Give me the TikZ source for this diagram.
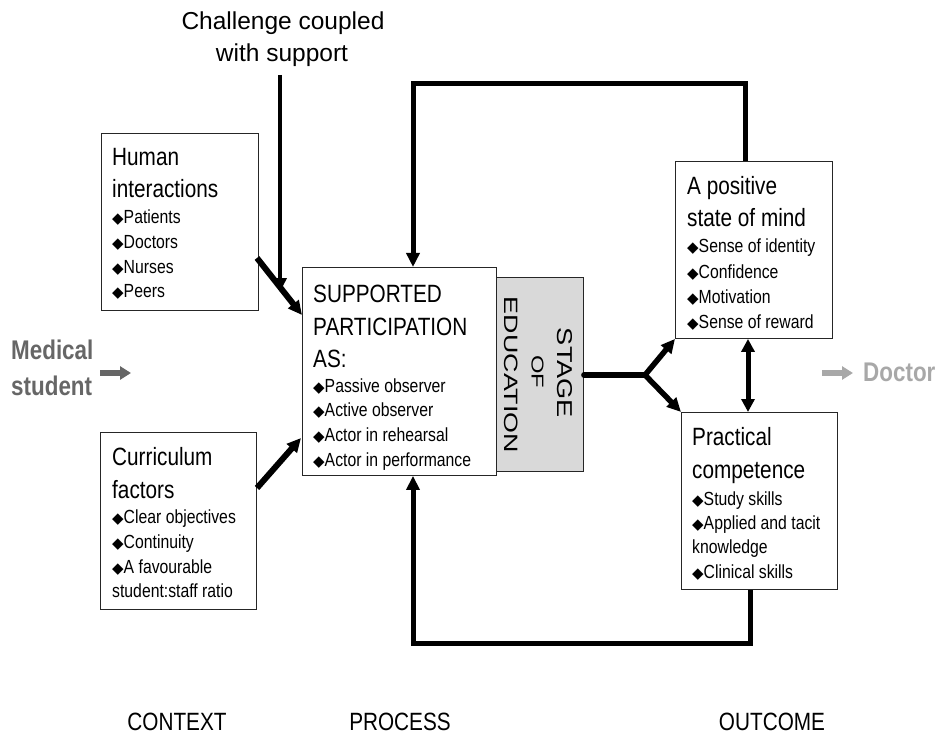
\documentclass[tikz,border=0pt]{standalone}
\usepackage{fontspec}
\usetikzlibrary{arrows.meta}
\newfontfamily\nar{Liberation Sans}[FakeStretch=0.83]
\newfontfamily\reg{Liberation Sans}
\newfontfamily\djv{DejaVu Sans}
\newcommand\dm{{\djv\fontsize{15}{15}\selectfont ◆}}
\definecolor{medgray}{HTML}{666666}
\definecolor{docgray}{HTML}{A8A8A8}
\definecolor{stagegray}{HTML}{D9D9D9}
\tikzset{
  mybox/.style={draw=black!85, line width=0.9pt, inner sep=0pt, anchor=north west},
  hdtxt/.style={font=\nar\fontsize{25}{30}\selectfont, anchor=base west, inner sep=0pt},
  bltxt/.style={font=\nar\fontsize{19}{24}\selectfont, anchor=base west, inner sep=0pt},
  chtxt/.style={font=\reg\fontsize{24.5}{30}\selectfont, anchor=base, inner sep=0pt},
  foottxt/.style={font=\nar\fontsize{25}{30}\selectfont, anchor=base, inner sep=0pt},
  sidetxt/.style={font=\nar\bfseries\fontsize{27}{30}\selectfont, anchor=base west, inner sep=0pt},
  arrtip/.style={-{Triangle[length=14pt,width=13pt]}},
  conn/.style={line width=5pt, line join=miter, arrtip},
  plainln/.style={line width=5.5pt},
  garrow/.style={line width=5.5pt, -{Triangle[length=11pt,width=13pt]}},
  rottxt/.style={rotate=-90, inner sep=0pt, font=\reg},
}
\begin{document}
\begin{tikzpicture}[x=1pt,y=-1pt]
\useasboundingbox (0,0) rectangle (948,754);

% boxes
\node[mybox, minimum width=157pt, minimum height=177pt] (hum) at (101,133) {};
\node[mybox, minimum width=156pt, minimum height=177pt] (cur) at (100,432) {};
\node[mybox, fill=stagegray, minimum width=87pt, minimum height=194pt] (stage) at (496,277) {};
\node[mybox, fill=white, minimum width=194pt, minimum height=208pt] (sup) at (302,267) {};
\node[mybox, minimum width=157pt, minimum height=177pt] (pos) at (675,161) {};
\node[mybox, minimum width=156pt, minimum height=177pt] (pra) at (681,412) {};

% human interactions
\node[hdtxt] (hum1) at (112,166) {Human};
\node[hdtxt] (hum2) at (112,198) {interactions};
\foreach \t [count=\i] in {Patients,Doctors,Nurses,Peers}
  \node[bltxt] (humb\i) at (112,{224+24.5*(\i-1)}) {\dm\t};

% curriculum
\node[hdtxt] (cur1) at (112,465) {Curriculum};
\node[hdtxt] (cur2) at (112,498) {factors};
\foreach \t [count=\i] in {Clear objectives,Continuity,A favourable}
  \node[bltxt] (curb\i) at (112,{523+25*(\i-1)}) {\dm\t};
\node[bltxt] (curb4) at (112,597) {student:staff ratio};

% supported participation
\node[hdtxt] (sup1) at (313,302) {SUPPORTED};
\node[hdtxt] (sup2) at (313,335) {PARTICIPATION};
\node[hdtxt] (sup3) at (313,367) {AS:};
\foreach \t [count=\i] in {Passive observer,Active observer,Actor in rehearsal,Actor in performance}
  \node[bltxt] (supb\i) at (313,{392+24.7*(\i-1)}) {\dm\t};

% stage of education
\node[rottxt] (st1) at (564.5,373) {\resizebox{90pt}{15pt}{STAGE}};
\node[rottxt] (st2) at (537.5,372) {\resizebox{33pt}{12pt}{OF}};
\node[rottxt] (st3) at (511.5,375) {\resizebox{156pt}{13.5pt}{EDUCATION}};

% positive state of mind
\node[hdtxt] (pos1) at (687,195) {A positive};
\node[hdtxt] (pos2) at (687,227) {state of mind};
\foreach \t [count=\i] in {Sense of identity,Confidence,Motivation,Sense of reward}
  \node[bltxt] (posb\i) at (687,{253+25*(\i-1)}) {\dm\t};

% practical competence
\node[hdtxt] (pra1) at (692,445) {Practical};
\node[hdtxt] (pra2) at (692,478) {competence};
\node[bltxt] (prab1) at (692,505) {\dm Study skills};
\node[bltxt] (prab2) at (692,529) {\dm Applied and tacit};
\node[bltxt] (prab3) at (692,553) {knowledge};
\node[bltxt] (prab4) at (692,578) {\dm Clinical skills};

% challenge
\node[chtxt] (ch1) at (283,30) {Challenge coupled};
\node[chtxt] (ch2) at (282,62) {with support};

% side labels
\node[sidetxt, text=medgray] (med1) at (11,359) {Medical};
\node[sidetxt, text=medgray] (med2) at (11,395) {student};
\node[sidetxt, text=docgray] (doc) at (863,381) {Doctor};

% footer
\node[foottxt] (ctx) at (177,730) {CONTEXT};
\node[foottxt] (prc) at (400,730) {PROCESS};
\node[foottxt] (out) at (772,730) {OUTCOME};

% connectors
\coordinate (chs) at (280,75);
\coordinate (che) at (280,292);
\draw[line width=4.5pt, arrtip] (chs) -- (che);

\coordinate (h1) at (257,258);
\coordinate (h2) at (302,315);
\draw[line width=6pt, arrtip] (h1) -- (h2);

\coordinate (c1) at (257,488);
\coordinate (c2) at (301,438);
\draw[line width=6pt, arrtip] (c1) -- (c2);

\coordinate (tl) at (413,84);
\coordinate (tr) at (745,84);
\draw[conn] (tr |- pos.north) -- (tr) -- (tl) -- (tl |- sup.north);

\coordinate (bl) at (413,643);
\coordinate (br) at (750,643);
\draw[conn] (br |- pra.south) -- (br) -- (bl) -- (bl |- sup.south);

\coordinate (fk) at (645,375);
\draw[plainln, line cap=round] (stage.east |- fk) -- (fk);
\draw[line width=5.5pt, arrtip] (fk) -- (pos.south west);
\draw[line width=5.5pt, arrtip] (fk) -- (pra.north west);

\coordinate (dx) at (748,0);
\draw[line width=5pt, {Triangle[length=13pt,width=13pt]}-{Triangle[length=13pt,width=13pt]}] (dx |- pos.south) -- (dx |- pra.north);

\coordinate (ma1) at (100,373);
\coordinate (ma2) at (131,373);
\draw[garrow, draw=medgray, fill=medgray] (ma1) -- (ma2);

\coordinate (da1) at (822,373);
\coordinate (da2) at (853,373);
\draw[garrow, draw=docgray, fill=docgray] (da1) -- (da2);
\end{tikzpicture}
\end{document}
